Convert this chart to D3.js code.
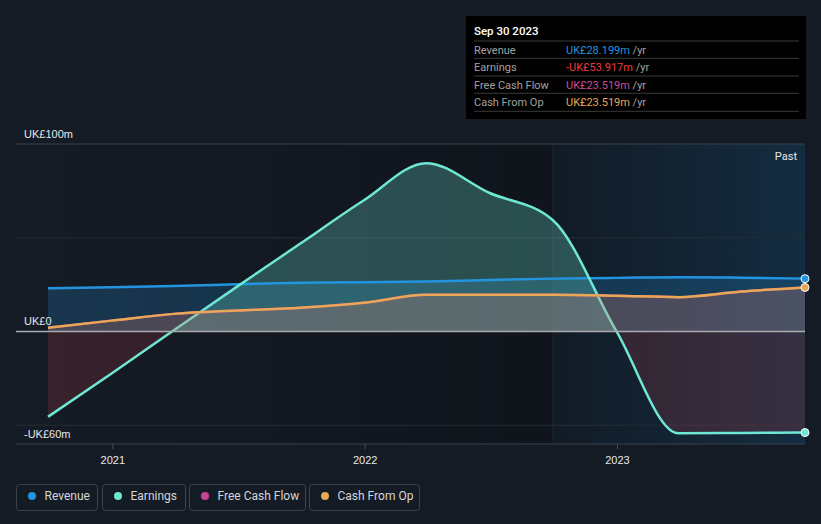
<!DOCTYPE html>
<html>
<head>
<meta charset="utf-8">
<script src="https://cdn.jsdelivr.net/npm/d3@7"></script>
<style>
  html, body { margin: 0; padding: 0; background: #151b25; }
  svg { display: block; font-family: Roboto, "Noto Sans", sans-serif; }
</style>
</head>
<body>
<svg id="chart" width="821" height="524"></svg>
<script>
// ---- data (UK£ millions, trailing twelve months) ----
const dates = ["2020-09-30","2020-12-31","2021-03-31","2021-06-30","2021-09-30","2021-12-31",
               "2022-03-31","2022-06-30","2022-09-30","2022-12-31","2023-03-31","2023-06-30","2023-09-30"];
const revenue      = [23.1, 23.6, 24.3, 25.2, 26.0, 26.3, 26.7, 27.5, 28.2, 28.6, 29.0, 28.7, 28.2];
const earnings     = [-45.5, -22.4, 0.7, 23.8, 46.9, 70.0, 89.8, 74.0, 59.5, 0.3, -54.3, -54.1, -53.9];
const freeCashFlow = [2.0, 5.8, 9.4, 11.2, 12.7, 15.3, 19.6, 19.6, 19.6, 19.1, 18.3, 21.3, 23.5];
const cashFromOp   = [2.0, 5.8, 9.4, 11.2, 12.7, 15.3, 19.6, 19.6, 19.6, 19.1, 18.3, 21.3, 23.5];
const yTickValues  = [-60, 0, 100];
const yTickLabels  = ["-UK£60m", "UK£0", "UK£100m"];
const xTickYears   = ["2021", "2022", "2023"];
const pastStart    = "2022-09-30";
const tooltipTitle = "Sep 30 2023";
const tooltipRows  = [
  {label: "Revenue",        value: "UK£28.199m",  color: "#2394df"},
  {label: "Earnings",       value: "-UK£53.917m", color: "#f0393d"},
  {label: "Free Cash Flow", value: "UK£23.519m",  color: "#d04a94"},
  {label: "Cash From Op",   value: "UK£23.519m",  color: "#e9a855"}
];
const legendItems = [
  {label: "Revenue",        color: "#2394df"},
  {label: "Earnings",       color: "#6ee7d3"},
  {label: "Free Cash Flow", color: "#c4488d"},
  {label: "Cash From Op",   color: "#e9a855"}
];

const COL = {rev: "#2394df", earn: "#6ee7d3", fcf: "#c4488d", cfo: "#e9a855"};

const parse = d3.timeParse("%Y-%m-%d");
const pts = dates.map((d, i) => ({
  date: parse(d), rev: revenue[i], earn: earnings[i], fcf: freeCashFlow[i], cfo: cashFromOp[i]
}));

const svg = d3.select("#chart");
const plotL = 16, plotR = 805, plotT = 144, plotB = 444;

const x = d3.scaleTime().domain([parse(dates[0]), parse(dates[dates.length - 1])]).range([48, 805]);
const y = d3.scaleLinear().domain([-60, 100]).range([plotB, plotT]);
const y0 = y(0);

const defs = svg.append("defs");
// left region darkening
const gLeft = defs.append("linearGradient").attr("id", "gLeft").attr("x1", "0").attr("x2", "1").attr("y1", "0").attr("y2", "0");
gLeft.append("stop").attr("offset", "0").attr("stop-color", "#000").attr("stop-opacity", 0.0);
gLeft.append("stop").attr("offset", "1").attr("stop-color", "#000").attr("stop-opacity", 0.25);
// past region
const gPast = defs.append("linearGradient").attr("id", "gPast").attr("x1", "0").attr("x2", "1").attr("y1", "0").attr("y2", "0");
gPast.append("stop").attr("offset", "0").attr("stop-color", "#2394df").attr("stop-opacity", 0.03);
gPast.append("stop").attr("offset", "1").attr("stop-color", "#2394df").attr("stop-opacity", 0.17);

// clip paths for positive / negative
defs.append("clipPath").attr("id", "clipPos").append("rect")
  .attr("x", plotL).attr("y", plotT - 30).attr("width", plotR - plotL).attr("height", y0 - plotT + 30);
defs.append("clipPath").attr("id", "clipNeg").append("rect")
  .attr("x", plotL).attr("y", y0).attr("width", plotR - plotL).attr("height", plotB - y0);

// backgrounds
const xPast = x(parse(pastStart));
svg.append("rect").attr("x", plotL).attr("y", plotT).attr("width", xPast - plotL).attr("height", plotB - plotT)
  .attr("fill", "url(#gLeft)");
svg.append("rect").attr("x", xPast).attr("y", plotT).attr("width", plotR - xPast).attr("height", plotB - plotT)
  .attr("fill", "#0c1018").attr("fill-opacity", 0.35);
svg.append("rect").attr("x", xPast).attr("y", plotT).attr("width", plotR - xPast).attr("height", plotB - plotT)
  .attr("fill", "url(#gPast)");
svg.append("line").attr("x1", xPast).attr("x2", xPast).attr("y1", plotT).attr("y2", plotB)
  .attr("stroke", "#ffffff").attr("stroke-opacity", 0.05).attr("stroke-width", 1);

// gridlines
[100, 50, -50].forEach(v => {
  svg.append("line").attr("x1", plotL).attr("x2", plotR).attr("y1", y(v)).attr("y2", y(v))
    .attr("stroke", v === 100 ? "#3a3f48" : "#262c35").attr("stroke-width", 1);
});

const curve = d3.curveMonotoneX;
const areaOf = key => d3.area().x(d => x(d.date)).y0(y0).y1(d => y(d[key])).curve(curve);
const lineOf = key => d3.line().x(d => x(d.date)).y(d => y(d[key])).curve(curve);

// revenue
svg.append("path").datum(pts).attr("d", areaOf("rev")).attr("fill", COL.rev).attr("fill-opacity", 0.22);
// earnings fills
svg.append("path").datum(pts).attr("d", areaOf("earn")).attr("fill", COL.earn).attr("fill-opacity", 0.28)
  .attr("clip-path", "url(#clipPos)");
svg.append("path").datum(pts).attr("d", areaOf("earn")).attr("fill", "#e04a55").attr("fill-opacity", 0.17)
  .attr("clip-path", "url(#clipNeg)");
svg.append("path").datum(pts).attr("d", lineOf("rev")).attr("fill", "none").attr("stroke", COL.rev).attr("stroke-width", 2.5);
svg.append("path").datum(pts).attr("d", lineOf("earn")).attr("fill", "none").attr("stroke", COL.earn).attr("stroke-width", 2.5);
// cash flow fills over earnings line
svg.append("path").datum(pts).attr("d", areaOf("fcf")).attr("fill", COL.fcf).attr("fill-opacity", 0.15);
svg.append("path").datum(pts).attr("d", areaOf("cfo")).attr("fill", COL.cfo).attr("fill-opacity", 0.15);
svg.append("path").datum(pts).attr("d", lineOf("fcf")).attr("fill", "none").attr("stroke", COL.fcf).attr("stroke-width", 2.5);
svg.append("path").datum(pts).attr("d", lineOf("cfo")).attr("fill", "none").attr("stroke", COL.cfo).attr("stroke-width", 2.5);

// zero line
svg.append("line").attr("x1", plotL).attr("x2", plotR).attr("y1", y0).attr("y2", y0)
  .attr("stroke", "#a9abb0").attr("stroke-width", 1.5);

// end markers
const last = pts[pts.length - 1];
[["rev", COL.rev], ["cfo", COL.cfo], ["earn", COL.earn]].forEach(([k, c]) => {
  svg.append("circle").attr("cx", x(last.date)).attr("cy", y(last[k])).attr("r", 4)
    .attr("fill", c).attr("stroke", "#ffffff").attr("stroke-width", 1);
});

// x axis
const xAxis = d3.axisBottom(x)
  .tickValues(xTickYears.map(yy => parse(yy + "-01-01")))
  .tickFormat(d3.timeFormat("%Y")).tickSize(5).tickSizeOuter(0);
const gx = svg.append("g").attr("transform", `translate(0,${plotB})`).call(xAxis);
gx.select(".domain").remove();
gx.selectAll(".tick line").attr("stroke", "#4a505a");
gx.selectAll(".tick text").attr("fill", "#e6e8eb").attr("font-size", 11).attr("dy", "1.05em");
svg.append("line").attr("x1", plotL).attr("x2", plotR).attr("y1", plotB).attr("y2", plotB)
  .attr("stroke", "#3c424c").attr("stroke-width", 1);

// y labels
const yAxis = d3.axisLeft(y).tickValues(yTickValues).tickFormat((d, i) => yTickLabels[i]).tickSize(0);
const gy = svg.append("g").attr("transform", `translate(${24},0)`).call(yAxis);
gy.select(".domain").remove();
gy.selectAll(".tick text").attr("text-anchor", "start").attr("x", 0).attr("dy", -7)
  .attr("fill", "#e6e8eb").attr("font-size", 11);

// Past label
svg.append("text").attr("x", 797).attr("y", 160).attr("text-anchor", "end")
  .attr("fill", "#e6e8eb").attr("font-size", 11).text("Past");

// tooltip
const tt = svg.append("g").attr("transform", "translate(466,16)");
tt.append("rect").attr("width", 340).attr("height", 103).attr("fill", "#000000");
tt.append("text").attr("x", 8).attr("y", 19).attr("fill", "#ffffff").attr("font-size", 11.5)
  .attr("font-weight", 500).text(tooltipTitle);
[25, 42.3, 60, 77.3, 95.3].forEach(yy => {
  tt.append("line").attr("x1", 8).attr("x2", 333).attr("y1", yy).attr("y2", yy)
    .attr("stroke", "#3a3a3a").attr("stroke-width", 1);
});
tooltipRows.forEach((r, i) => {
  const yy = 37.5 + i * 17.5;
  tt.append("text").attr("x", 8).attr("y", yy).attr("fill", "#a2a2a2").attr("font-size", 11).text(r.label);
  const t = tt.append("text").attr("x", 100).attr("y", yy).attr("font-size", 11);
  t.append("tspan").attr("fill", r.color).text(r.value);
  t.append("tspan").attr("fill", "#a2a2a2").text(" /yr");
});

// legend
const legendX = [16, 102, 189, 309];
const legendW = [81, 83, 116, 110];
legendItems.forEach((it, i) => {
  const g = svg.append("g").attr("transform", `translate(${legendX[i] + 0.5},${484.5})`);
  g.append("rect").attr("width", legendW[i]).attr("height", 26).attr("rx", 3)
    .attr("fill", "none").attr("stroke", "#3c424c").attr("stroke-width", 1);
  g.append("circle").attr("cx", 15.5).attr("cy", 11.5).attr("r", 4).attr("fill", it.color);
  g.append("text").attr("x", 28).attr("y", 15.5).attr("fill", "#d4d6da").attr("font-size", 12).text(it.label);
});
</script>
</body>
</html>
